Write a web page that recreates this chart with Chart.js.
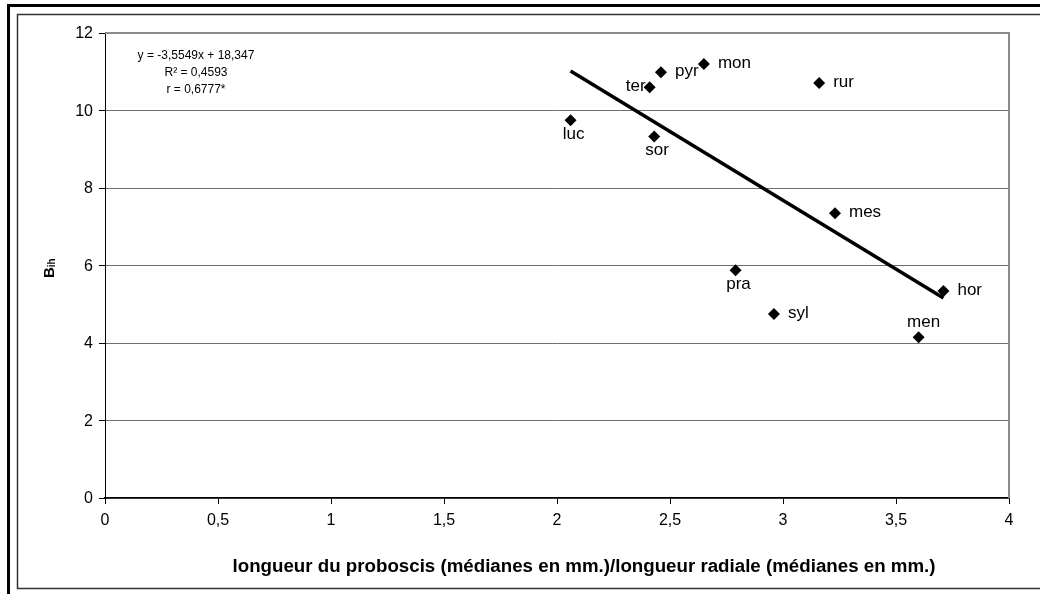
<!DOCTYPE html>
<html>
<head>
<meta charset="utf-8">
<script src="https://cdn.jsdelivr.net/npm/chart.js@4.4.1/dist/chart.umd.min.js"></script>
<style>
  html, body { margin: 0; padding: 0; background: #fff; }
  #c { display: block; }
</style>
</head>
<body>
<canvas id="c" width="1040" height="594"></canvas>
<script>
// ---- data ----
const speciesNames = ['luc', 'ter', 'pyr', 'mon', 'rur', 'sor', 'mes', 'pra', 'syl', 'men', 'hor'];
const ratioValues  = [2.06, 2.41, 2.46, 2.65, 3.16, 2.43, 3.23, 2.79, 2.96, 3.60, 3.71];
const bihValues    = [9.75, 10.60, 10.99, 11.20, 10.71, 9.33, 7.35, 5.88, 4.75, 4.15, 5.34];
const trendX = [2.06, 3.71];
const trendY = [11.02, 5.16];
const equationLines = ['y = -3,5549x + 18,347', 'R\u00B2 = 0,4593', 'r = 0,6777*'];
const xAxisTitle = 'longueur du proboscis (médianes en mm.)/longueur radiale (médianes en mm.)';
const yAxisMain = 'B';
const yAxisSub = 'ih';

// label placement (style, kept apart from data)
const labelPlacement = ['below', 'left', 'right', 'right', 'right', 'below', 'right', 'below', 'right', 'above', 'right'];

const FONT = '"Liberation Sans", Arial, sans-serif';

const pointData = ratioValues.map((x, i) => ({ x: x, y: bihValues[i] }));
const trendData = trendX.map((x, i) => ({ x: x, y: trendY[i] }));

function drawText(ctx, text, x, y, align, sx) {
  ctx.save();
  ctx.translate(x, y);
  ctx.scale(sx, 1);
  ctx.textAlign = align;
  ctx.fillText(text, 0, 0);
  ctx.restore();
}

const fmt = (v) => String(v).replace('.', ',');

const decorPlugin = {
  id: 'decor',
  beforeDraw(chart) {
    const ctx = chart.ctx;
    ctx.save();
    ctx.fillStyle = '#fff';
    ctx.fillRect(0, 0, chart.width, chart.height);
    ctx.fillStyle = '#000';
    ctx.fillRect(7, 4, chart.width - 7, 3);
    ctx.fillRect(7, 4, 3, chart.height - 4);
    ctx.strokeStyle = '#333';
    ctx.lineWidth = 1.5;
    ctx.beginPath();
    ctx.moveTo(chart.width, 14.5);
    ctx.lineTo(17.5, 14.5);
    ctx.lineTo(17.5, 588.5);
    ctx.lineTo(chart.width, 588.5);
    ctx.stroke();
    ctx.restore();
  },
  beforeDatasetsDraw(chart) {
    const ctx = chart.ctx;
    const a = chart.chartArea;
    ctx.save();
    ctx.strokeStyle = '#8c8c8c';
    ctx.lineWidth = 2;
    ctx.beginPath();
    ctx.moveTo(a.left, a.top);
    ctx.lineTo(a.right, a.top);
    ctx.lineTo(a.right, a.bottom);
    ctx.stroke();
    ctx.restore();
  },
  afterDraw(chart) {
    const ctx = chart.ctx;
    ctx.save();
    ctx.fillStyle = '#000';
    ctx.textBaseline = 'middle';

    // tick labels, placed through the library's scales
    ctx.font = '16px ' + FONT;
    const ys = chart.scales.y;
    ys.ticks.forEach(t => drawText(ctx, fmt(t.value), 93, ys.getPixelForValue(t.value) + 1, 'right', 1));
    const xs = chart.scales.x;
    xs.ticks.forEach(t => drawText(ctx, fmt(t.value), xs.getPixelForValue(t.value), 521, 'center', 1));

    // data labels
    ctx.font = '17px ' + FONT;
    const meta = chart.getDatasetMeta(0);
    meta.data.forEach((pt, i) => {
      const p = labelPlacement[i];
      let x = pt.x, y = pt.y, align = 'center';
      if (p === 'right') { align = 'left'; x += 14; y -= 1; }
      else if (p === 'left') { align = 'right'; x -= 4; y -= 1; }
      else if (p === 'below') { x += 3; y += 14; }
      else if (p === 'above') { x += 5; y -= 15; }
      drawText(ctx, speciesNames[i], x, y, align, 1);
    });

    // equation text
    ctx.font = '12px ' + FONT;
    const eqY = [56, 73, 90];
    equationLines.forEach((t, i) => drawText(ctx, t, 196, eqY[i], 'center', 1));

    // x axis title, fitted to the reference width
    ctx.font = 'bold 18px ' + FONT;
    const tw = ctx.measureText(xAxisTitle).width;
    drawText(ctx, xAxisTitle, 584, 567, 'center', 703 / tw);

    // y axis title with subscript
    ctx.translate(54, 278);
    ctx.rotate(-Math.PI / 2);
    ctx.textAlign = 'left';
    ctx.textBaseline = 'alphabetic';
    ctx.font = 'bold 15px ' + FONT;
    ctx.fillText(yAxisMain, 0, 0);
    const w = ctx.measureText(yAxisMain).width;
    ctx.font = 'bold 10px ' + FONT;
    ctx.fillText(yAxisSub, w, 1);
    ctx.restore();
  }
};

new Chart(document.getElementById('c'), {
  type: 'scatter',
  data: {
    datasets: [
      {
        data: pointData,
        backgroundColor: '#000',
        borderColor: '#000',
        pointStyle: 'rectRot',
        pointRadius: 6,
        pointHoverRadius: 6,
        borderWidth: 0,
        showLine: false,
        order: 2
      },
      {
        data: trendData,
        showLine: true,
        borderColor: '#000',
        borderWidth: 3.5,
        pointRadius: 0,
        fill: false,
        order: 1
      }
    ]
  },
  options: {
    responsive: false,
    animation: false,
    events: [],
    clip: false,
    layout: { padding: { top: 33, right: 31, left: 0, bottom: 0 } },
    plugins: {
      legend: { display: false },
      tooltip: { enabled: false },
      title: { display: false }
    },
    scales: {
      x: {
        type: 'linear',
        min: 0, max: 4,
        afterFit(s) { s.height = 96; },
        ticks: { stepSize: 0.5, display: false, maxRotation: 0 },
        grid: {
          display: true,
          drawOnChartArea: false,
          drawTicks: true,
          tickLength: 6,
          tickColor: '#000',
          color: '#000'
        },
        border: { display: true, color: '#000', width: 1.5 }
      },
      y: {
        type: 'linear',
        min: 0, max: 12,
        afterFit(s) { s.width = 105; },
        ticks: { stepSize: 2, display: false },
        grid: {
          display: true,
          drawOnChartArea: true,
          drawTicks: true,
          tickLength: 6,
          tickColor: '#000',
          color: '#6e6e6e',
          lineWidth: 1
        },
        border: { display: true, color: '#000', width: 1 }
      }
    }
  },
  plugins: [decorPlugin]
});
</script>
</body>
</html>
